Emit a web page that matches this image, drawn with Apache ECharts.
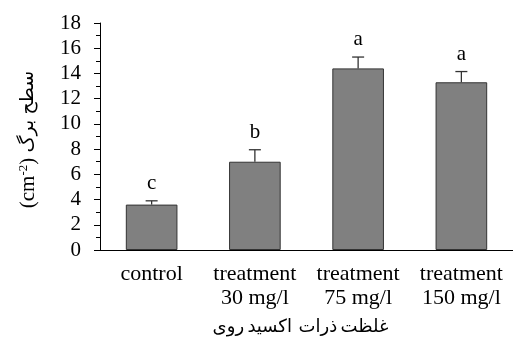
<!DOCTYPE html>
<html>
<head>
<meta charset="utf-8">
<script src="https://cdn.jsdelivr.net/npm/echarts@6/dist/echarts.min.js"></script>
<style>
  html, body { margin: 0; padding: 0; background: #fff; }
  #main { width: 513px; height: 348px; }
</style>
</head>
<body>
<div id="main"></div>
<script>
// data
var categories = ['control', 'treatment\n30 mg/l', 'treatment\n75 mg/l', 'treatment\n150 mg/l'];
var leafArea = [3.6, 7.0, 14.4, 13.3];
var errors = [0.3, 0.95, 0.9, 0.85];
var letters = ['c', 'b', 'a', 'a'];

var serif = 'Liberation Serif, Times New Roman, serif';

var chart = echarts.init(document.getElementById('main'), null, { renderer: 'canvas' });

var errData = leafArea.map(function (v, i) { return [i, v, errors[i]]; });

var option = {
  backgroundColor: '#ffffff',
  animation: false,
  grid: { left: 100, right: 0, top: 23, bottom: 98 },
  xAxis: {
    type: 'category',
    data: categories,
    // Persian words as separate tokens, ordered to match the figure
    name: '{p|روی} {p|اکسید}  {p|ذرات} {p|غلظت}',
    nameLocation: 'middle',
    nameGap: 68,
    nameTextStyle: {
      padding: [0, 12, 0, 0],
      rich: { p: { fontFamily: 'DejaVu Sans', fontSize: 18, color: '#000' } }
    },
    axisLine: { lineStyle: { color: '#000', width: 1 } },
    axisTick: { show: false },
    axisLabel: {
      interval: 0, hideOverlap: false,
      color: '#000', fontFamily: serif, fontSize: 22, lineHeight: 24, margin: 12
    }
  },
  yAxis: {
    type: 'value',
    min: 0, max: 18, interval: 2,
    name: '(cm{sup|-2}) {p|برگ} {p|سطح}',
    nameLocation: 'middle',
    nameGap: 61,
    nameTextStyle: {
      color: '#000', fontFamily: serif, fontSize: 21,
      padding: [0, 6, 0, 0],
      rich: {
        sup: { fontFamily: serif, fontSize: 13, verticalAlign: 'top', padding: [0, 0, 9, 0], color: '#000' },
        p: { fontFamily: 'DejaVu Sans', fontSize: 19, color: '#000' }
      }
    },
    axisLine: { show: true, lineStyle: { color: '#000', width: 1 } },
    axisTick: { show: true, inside: false, length: 6, lineStyle: { color: '#000' } },
    minorTick: { show: true, splitNumber: 2, length: 4, lineStyle: { color: '#000' } },
    splitLine: { show: false },
    axisLabel: { color: '#000', fontFamily: serif, fontSize: 21, margin: 19 }
  },
  series: [
    {
      type: 'bar',
      data: leafArea,
      barWidth: '50%',
      itemStyle: { color: '#808080', borderColor: '#333', borderWidth: 1 }
    },
    {
      type: 'custom',
      data: errData,
      z: 3,
      renderItem: function (params, api) {
        var i = api.value(0);
        var v = api.value(1);
        var e = api.value(2);
        var p0 = api.coord([i, v]);
        var p1 = api.coord([i, v + e]);
        var style = { stroke: '#333', lineWidth: 1.3 };
        return {
          type: 'group',
          children: [
            { type: 'line', shape: { x1: p0[0], y1: p0[1], x2: p1[0], y2: p1[1] }, style: style },
            { type: 'line', shape: { x1: p1[0] - 6, y1: p1[1], x2: p1[0] + 6, y2: p1[1] }, style: style },
            {
              type: 'text',
              x: p1[0], y: p1[1] - 7,
              style: {
                text: letters[params.dataIndex],
                fill: '#000', font: '21px ' + serif,
                align: 'center', verticalAlign: 'bottom'
              }
            }
          ]
        };
      }
    }
  ]
};

chart.setOption(option);
</script>
</body>
</html>
